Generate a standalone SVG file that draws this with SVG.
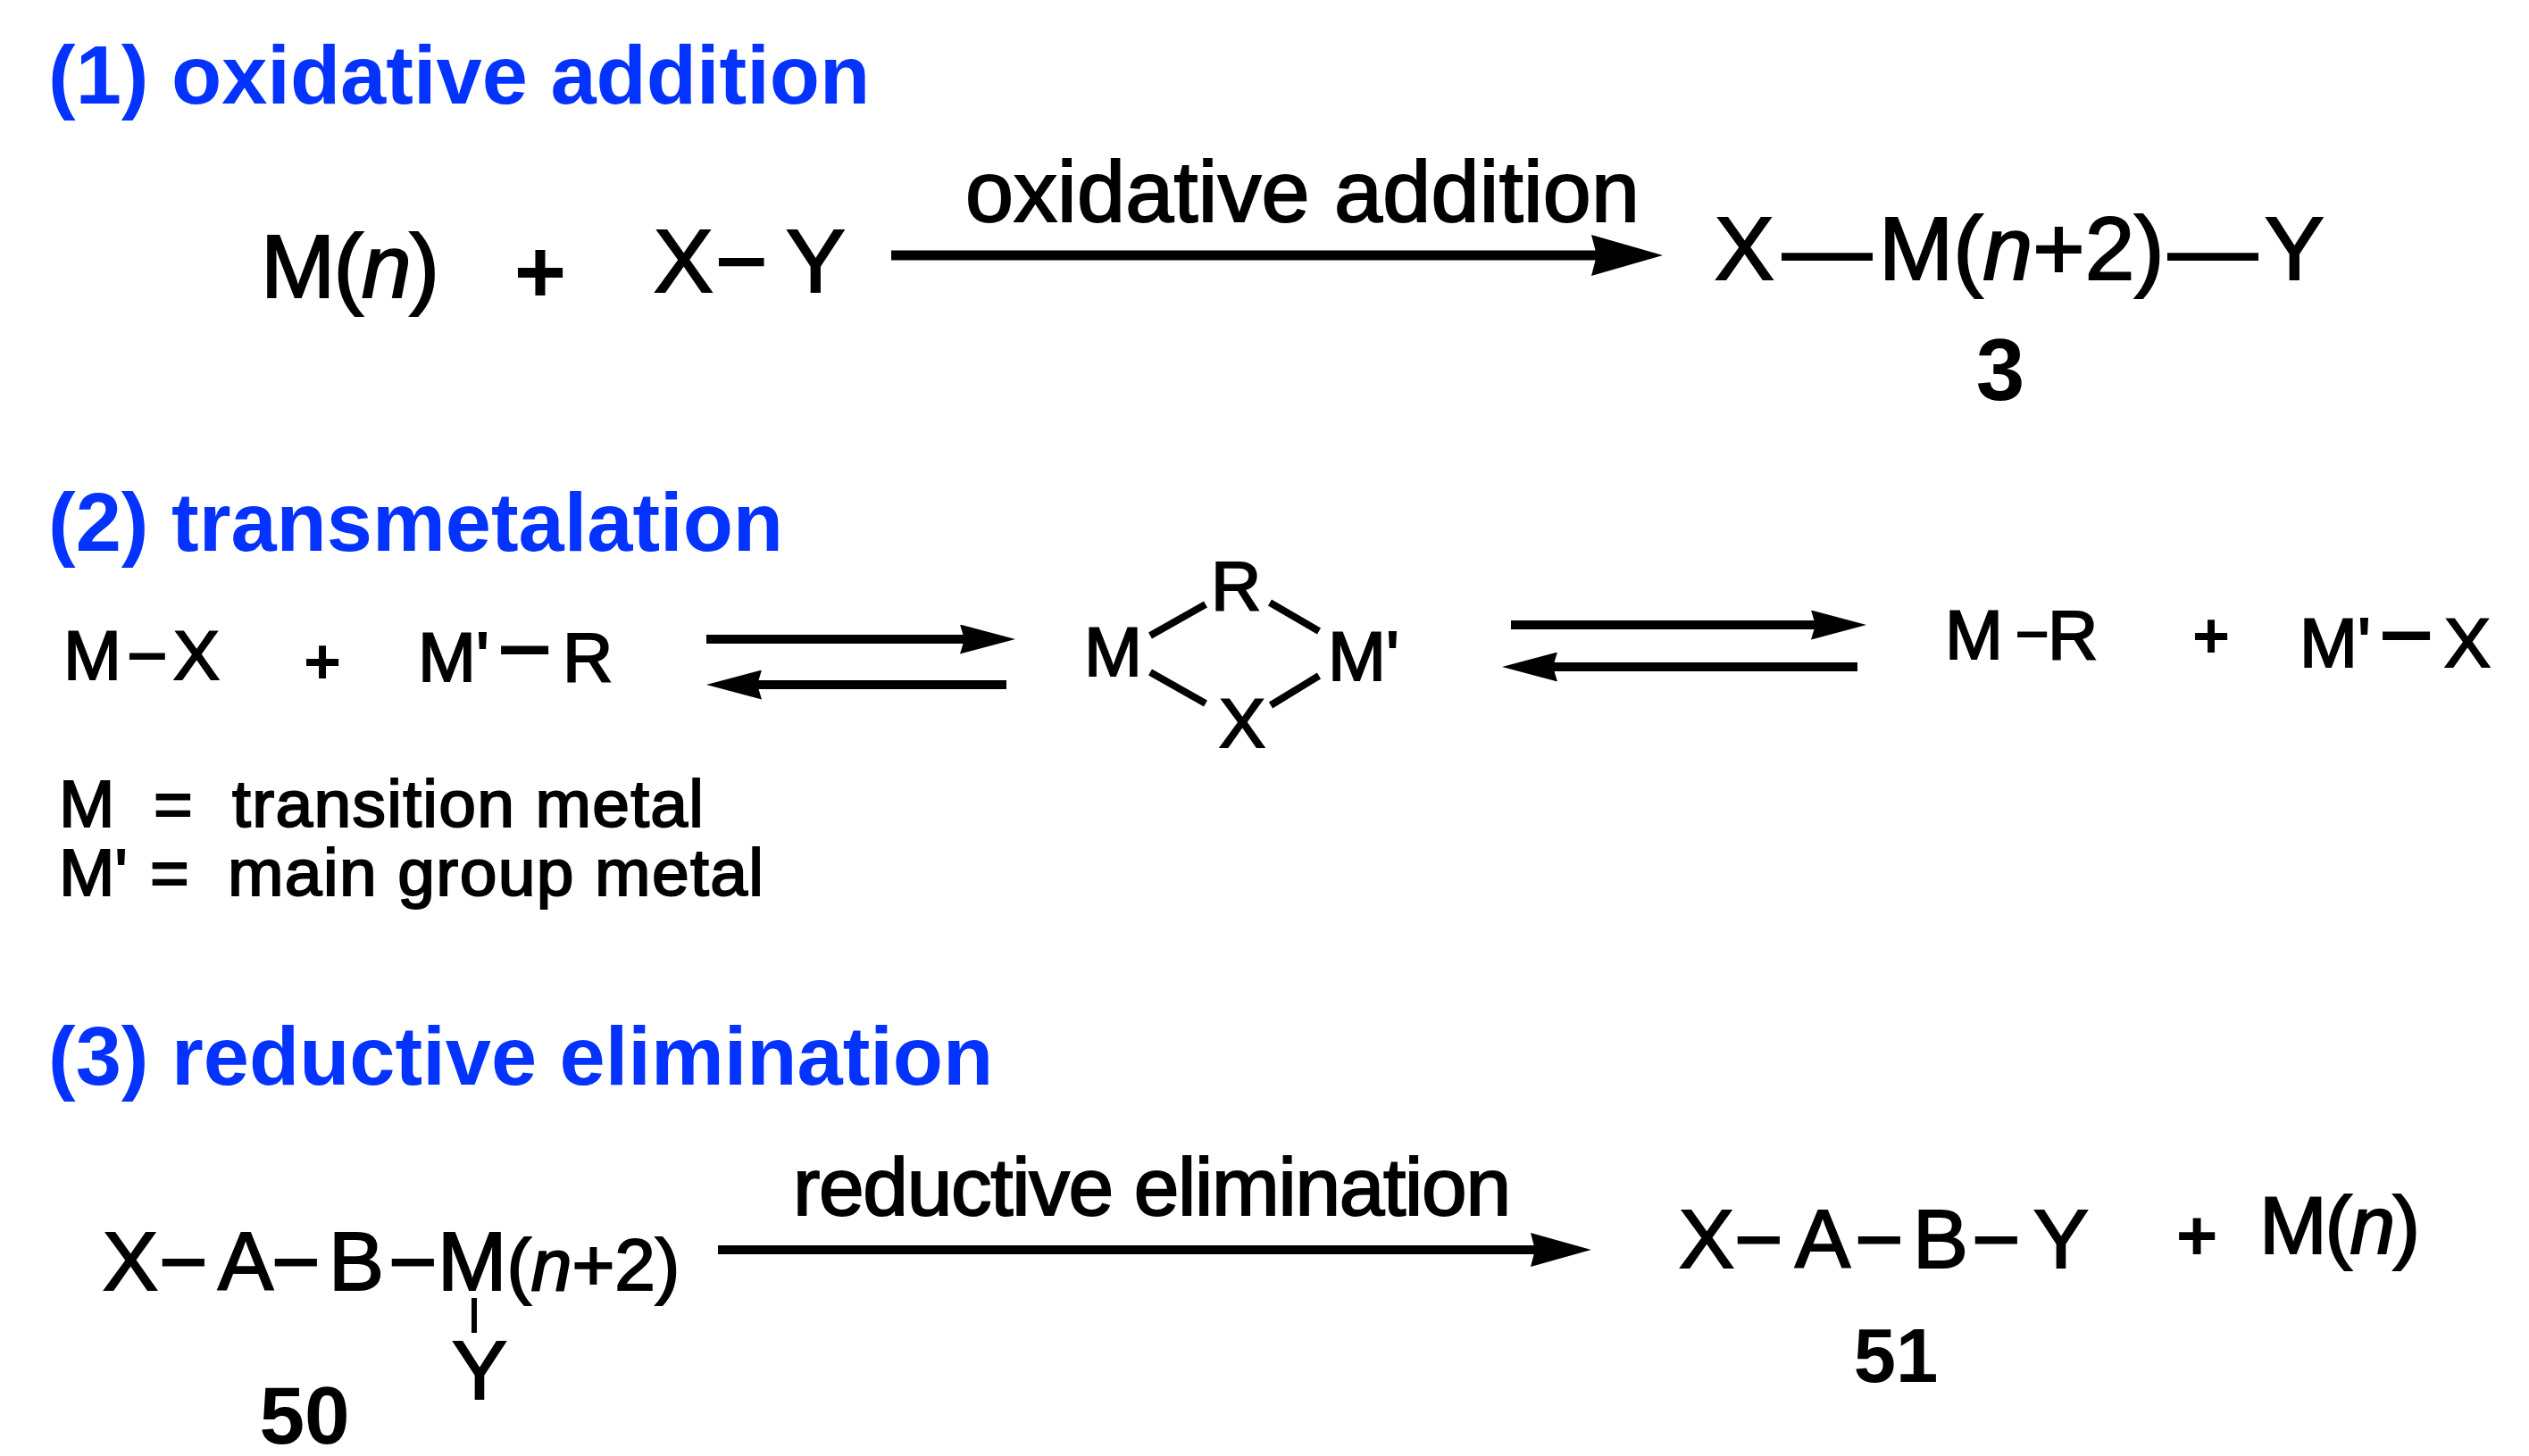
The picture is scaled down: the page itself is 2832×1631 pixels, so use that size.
<svg xmlns="http://www.w3.org/2000/svg" width="2832" height="1631" viewBox="0 0 2832 1631">
<defs>
<style>
.hd{font-family:"Liberation Sans",Arial,sans-serif;font-weight:bold;font-size:92px;fill:#0433ff;}
.ch{font-family:"Liberation Sans",Arial,sans-serif;fill:#000;stroke:#000;stroke-width:2px;}
.bd{font-family:"Liberation Sans",Arial,sans-serif;font-weight:bold;fill:#000;}
.it{font-style:italic;}
.ln{stroke:#000;fill:none;stroke-linecap:butt;}
</style>
<marker id="h1" viewBox="0 0 80 46" refX="12" refY="23" markerWidth="80" markerHeight="46" markerUnits="userSpaceOnUse" orient="auto"><path d="M0,0 L80,23 L0,46 L6,23 Z" fill="#000"/></marker>
<marker id="h2" viewBox="0 0 62 33" refX="12" refY="16.5" markerWidth="62" markerHeight="33" markerUnits="userSpaceOnUse" orient="auto"><path d="M0,0 L62,16.5 L0,33 L5,16.5 Z" fill="#000"/></marker>
<marker id="h3" viewBox="0 0 68 38" refX="12" refY="19" markerWidth="68" markerHeight="38" markerUnits="userSpaceOnUse" orient="auto"><path d="M0,0 L68,19 L0,38 L5,19 Z" fill="#000"/></marker>
</defs>
<rect width="2832" height="1631" fill="#fff"/>

<g id="headings">
<text class="hd" x="54" y="116">(1) oxidative addition</text>
<text class="hd" x="54" y="617">(2) transmetalation</text>
<text class="hd" x="54" y="1215">(3) reductive elimination</text>
</g>

<g id="connectors">
<path class="ln" d="M998,286 H1794" stroke-width="11" marker-end="url(#h1)"/>
<path class="ln" d="M791,716 H1087" stroke-width="10" marker-end="url(#h2)"/>
<path class="ln" d="M1127,767 H841" stroke-width="10" marker-end="url(#h2)"/>
<path class="ln" d="M1692,700 H2040" stroke-width="10" marker-end="url(#h2)"/>
<path class="ln" d="M2080,747 H1732" stroke-width="10" marker-end="url(#h2)"/>
<path class="ln" d="M804,1400 H1726" stroke-width="10" marker-end="url(#h3)"/>
</g>

<g id="s1-reactants">
<text class="ch" x="292" y="333" font-size="100" textLength="200">M(<tspan class="it">n</tspan>)</text>
<text class="bd" x="605" y="339" font-size="100" text-anchor="middle">+</text>
<text class="ch" y="327" font-size="100"><tspan x="732">X</tspan><tspan x="801">−</tspan><tspan x="880">Y</tspan></text>
</g>
<g id="s1-label">
<text class="ch" x="1081" y="248" font-size="97" textLength="755">oxidative addition</text>
</g>
<g id="s1-product">
<text class="ch" y="313" font-size="100"><tspan x="1920">X</tspan><tspan x="1996">—</tspan><tspan x="2104">M(</tspan><tspan class="it">n</tspan><tspan>+2)</tspan><tspan x="2428">—</tspan><tspan x="2536">Y</tspan></text>
<text class="bd" x="2240" y="448" font-size="98" text-anchor="middle">3</text>
</g>

<g id="s2-reactants">
<text class="ch" y="761" font-size="78"><tspan x="71">M</tspan><tspan x="142">−</tspan><tspan x="194">X</tspan></text>
<text class="bd" x="361" y="766" font-size="72" text-anchor="middle">+</text>
<text class="ch" y="763" font-size="78"><tspan x="468">M'</tspan><tspan x="557" font-size="105">−</tspan><tspan x="630">R</tspan></text>
</g>
<g id="s2-intermediate">
<text class="ch" x="1214" y="757" font-size="78">M</text>
<text class="ch" x="1356" y="683" font-size="78">R</text>
<text class="ch" x="1365" y="837" font-size="78">X</text>
<text class="ch" x="1487" y="762" font-size="78">M'</text>
<path class="ln" stroke-width="8" d="M1288,712 L1350,677 M1422,675 L1477,707 M1288,753 L1350,788 M1423,790 L1477,757"/>
</g>
<g id="s2-products">
<text class="ch" y="738" font-size="78"><tspan x="2178">M</tspan><tspan x="2257" y="732" font-size="64">−</tspan><tspan x="2293" y="738">R</tspan></text>
<text class="bd" x="2476" y="737" font-size="72" text-anchor="middle">+</text>
<text class="ch" y="747" font-size="78"><tspan x="2575">M'</tspan><tspan x="2664" font-size="105">−</tspan><tspan x="2737">X</tspan></text>
</g>
<g id="s2-legend">
<text class="ch" x="66" y="926" font-size="75">M</text>
<text class="ch" x="172" y="926" font-size="75">=</text>
<text class="ch" x="260" y="926" font-size="75" textLength="528">transition metal</text>
<text class="ch" x="66" y="1003" font-size="75">M'</text>
<text class="ch" x="168" y="1003" font-size="75">=</text>
<text class="ch" x="255" y="1003" font-size="75" textLength="600">main group metal</text>
</g>

<g id="s3-reactant">
<text class="ch" y="1445" font-size="93"><tspan x="115">X</tspan><tspan x="178">−</tspan><tspan x="244">A</tspan><tspan x="304">−</tspan><tspan x="368">B</tspan><tspan x="435">−</tspan><tspan x="490">M</tspan><tspan font-size="82">(<tspan class="it">n</tspan>+2)</tspan></text>
<path class="ln" stroke-width="6" d="M531,1454 V1493"/>
<text class="ch" x="506" y="1567" font-size="93">Y</text>
<text class="bd" x="341" y="1617" font-size="91" text-anchor="middle">50</text>
</g>
<g id="s3-label">
<text class="ch" x="888" y="1361" font-size="91" textLength="804">reductive elimination</text>
</g>
<g id="s3-products">
<text class="ch" y="1420" font-size="93"><tspan x="1880">X</tspan><tspan x="1942">−</tspan><tspan x="2010">A</tspan><tspan x="2077">−</tspan><tspan x="2142">B</tspan><tspan x="2208">−</tspan><tspan x="2277">Y</tspan></text>
<text class="bd" x="2460" y="1411" font-size="80" text-anchor="middle">+</text>
<text class="ch" x="2530" y="1404" font-size="91" textLength="180">M(<tspan class="it">n</tspan>)</text>
<text class="bd" x="2123" y="1548" font-size="85" text-anchor="middle">51</text>
</g>
</svg>
